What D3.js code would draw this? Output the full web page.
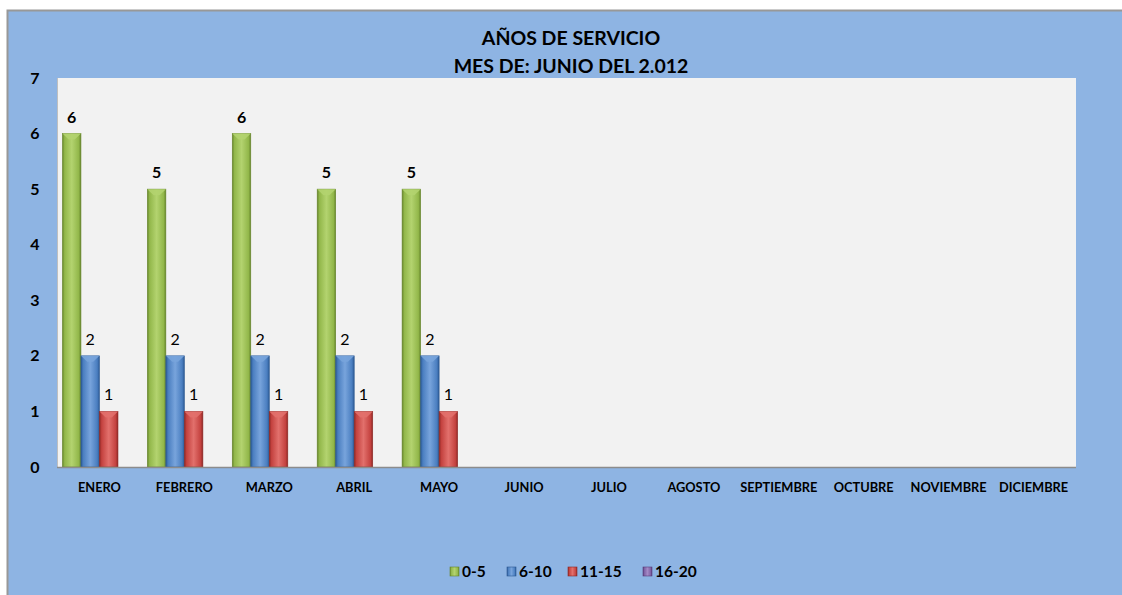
<!DOCTYPE html>
<html lang="es">
<head>
<meta charset="utf-8">
<title>Años de servicio</title>
<script src="https://cdn.jsdelivr.net/npm/d3@7"></script>
<style>
  body { margin: 0; background: #fff; }
  svg text { font-family: Lato, "Open Sans", sans-serif; fill: #000; }
</style>
</head>
<body>
<script>
// data
const months = ["ENERO", "FEBRERO", "MARZO", "ABRIL", "MAYO", "JUNIO", "JULIO",
  "AGOSTO", "SEPTIEMBRE", "OCTUBRE", "NOVIEMBRE", "DICIEMBRE"];
const seriesNames = ["0-5", "6-10", "11-15", "16-20"];
const s0_5   = [6, 5, 6, 5, 5, null, null, null, null, null, null, null];
const s6_10  = [2, 2, 2, 2, 2, null, null, null, null, null, null, null];
const s11_15 = [1, 1, 1, 1, 1, null, null, null, null, null, null, null];
const s16_20 = [null, null, null, null, null, null, null, null, null, null, null, null];
const yTicks = [0, 1, 2, 3, 4, 5, 6, 7];

const colors = {
  "0-5":   { base: "#92B74A", dark: "#66852B", light: "#B3D36F" },
  "6-10":  { base: "#4A7EC0", dark: "#2B5892", light: "#78A4DC" },
  "11-15": { base: "#C4423F", dark: "#8E2825", light: "#E2706C" },
  "16-20": { base: "#7D5FA3", dark: "#573C7A", light: "#A48AC6" }
};
const seriesValues = [s0_5, s6_10, s11_15, s16_20];

const W = 1122, H = 595;
const plot = { left: 57, top: 78, right: 1076, bottom: 467 };

const svg = d3.select("body").append("svg")
  .attr("width", W).attr("height", H);

// gradients for the bevelled bars
const defs = svg.append("defs");
seriesNames.forEach((s, i) => {
  const c = colors[s];
  const g = defs.append("linearGradient").attr("id", "grad" + i)
    .attr("x1", "0").attr("x2", "1").attr("y1", "0").attr("y2", "0");
  g.append("stop").attr("offset", "0").attr("stop-color", c.dark);
  g.append("stop").attr("offset", "0.12").attr("stop-color", c.base);
  g.append("stop").attr("offset", "0.5").attr("stop-color", c.light);
  g.append("stop").attr("offset", "0.88").attr("stop-color", c.base);
  g.append("stop").attr("offset", "1").attr("stop-color", c.dark);
});

// chart background
svg.append("rect")
  .attr("x", 7.5).attr("y", 10.5).attr("width", W - 4).attr("height", H)
  .attr("fill", "#8EB4E3").attr("stroke", "#989898").attr("stroke-width", 2);

// plot area
svg.append("rect")
  .attr("x", plot.left).attr("y", plot.top)
  .attr("width", plot.right - plot.left).attr("height", plot.bottom - plot.top)
  .attr("fill", "#F2F2F2");
svg.append("line")
  .attr("x1", plot.left + 0.5).attr("x2", plot.left + 0.5)
  .attr("y1", plot.top).attr("y2", plot.bottom)
  .attr("stroke", "#BFBFBF");

// scales
const x0 = d3.scaleBand().domain(months)
  .range([plot.left, plot.right]).paddingInner(0.128).paddingOuter(0.064);
const x1 = d3.scaleBand().domain(seriesNames).range([0, x0.bandwidth()]);
const y = d3.scaleLinear().domain([0, 7]).range([plot.bottom, plot.top]);

// y axis labels
svg.append("g").selectAll("text").data(yTicks).join("text")
  .attr("x", 35).attr("y", d => y(d)).attr("dy", "0.35em")
  .attr("text-anchor", "middle")
  .attr("font-size", 16).attr("font-weight", "bold")
  .text(d => d);

// bars
const rows = [];
months.forEach((m, mi) => {
  seriesNames.forEach((s, si) => {
    const v = seriesValues[si][mi];
    if (v != null) rows.push({ month: m, series: s, si, value: v });
  });
});

const bars = svg.append("g").selectAll("g").data(rows).join("g")
  .attr("transform", d => `translate(${x0(d.month) + x1(d.series)},0)`);

bars.append("rect")
  .attr("x", 0).attr("width", x1.bandwidth())
  .attr("y", d => y(d.value)).attr("height", d => y(0) - y(d.value))
  .attr("fill", d => `url(#grad${d.si})`)
  .attr("stroke", d => colors[d.series].dark).attr("stroke-width", 0.6);

// bevel highlight at bar top
bars.append("path")
  .attr("d", d => {
    const w = x1.bandwidth(), t = y(d.value);
    return `M0,${t}L${w},${t}L${w / 2 + 3},${t + 6}L${w / 2 - 3},${t + 6}Z`;
  })
  .attr("fill", d => colors[d.series].light).attr("opacity", 0.9);

// value labels
bars.append("text")
  .attr("x", x1.bandwidth() / 2).attr("y", d => y(d.value) - 11)
  .attr("text-anchor", "middle")
  .attr("font-size", 16)
  .attr("font-weight", d => d.si === 0 ? "bold" : "normal")
  .text(d => d.value);

// x axis line
svg.append("line")
  .attr("x1", plot.left).attr("x2", plot.right)
  .attr("y1", plot.bottom + 0.5).attr("y2", plot.bottom + 0.5)
  .attr("stroke", "#8C8C8C").attr("stroke-width", 1.5);

// x axis labels
svg.append("g").selectAll("text").data(months).join("text")
  .attr("x", d => x0(d) + x0.bandwidth() / 2)
  .attr("y", 492)
  .attr("text-anchor", "middle")
  .attr("font-size", 12.8).attr("font-weight", "bold")
  .text(d => d);

// title
svg.append("text").attr("x", 571).attr("y", 45)
  .attr("text-anchor", "middle").attr("font-size", 19.5).attr("font-weight", "bold")
  .text("AÑOS DE SERVICIO");
svg.append("text").attr("x", 571).attr("y", 73)
  .attr("text-anchor", "middle").attr("font-size", 19.5).attr("font-weight", "bold")
  .text("MES DE: JUNIO DEL 2.012");

// legend
const legendX = [450, 507, 568, 643];
const legend = svg.append("g").selectAll("g").data(seriesNames).join("g")
  .attr("transform", (d, i) => `translate(${legendX[i]},572)`);
legend.append("rect")
  .attr("x", 0).attr("y", -5).attr("width", 9).attr("height", 9)
  .attr("fill", (d, i) => `url(#grad${i})`)
  .attr("stroke", d => colors[d].dark).attr("stroke-width", 0.6);
legend.append("text")
  .attr("x", 12).attr("y", 0).attr("dy", "0.35em")
  .attr("font-size", 15.5).attr("font-weight", "bold")
  .text(d => d);
</script>
</body>
</html>
